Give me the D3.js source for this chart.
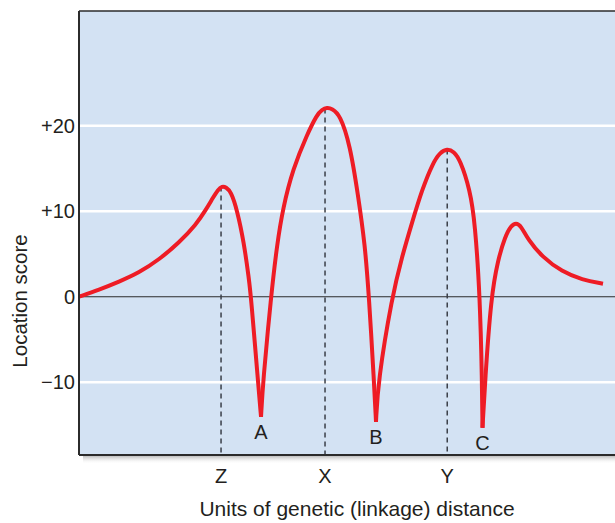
<!DOCTYPE html>
<html>
<head>
  <script src='https://cdn.jsdelivr.net/npm/d3@7/dist/d3.min.js'></script>
  <meta charset='utf-8'>
  <title></title>
  <style>
    body { margin: 0; background: #fff; }
    #chart { width: 615px; height: 523px; }
    text { font-family: 'Liberation Sans', Arial, sans-serif; fill: #231f20; }
  </style>
</head>
<body>
  <div id='chart'></div>
  <script>
    // location score curve
    var distance = [0, 3.73, 7.46, 11.19, 14.93, 18.66, 21.83, 23.69, 25.00, 25.93, 26.68, 27.43, 28.36, 29.48,
      30.78, 31.72, 32.09, 33.40, 33.96,
      34.33, 35.82, 36.94, 38.06, 39.93, 42.54, 44.40, 45.34, 46.27, 47.20, 48.69, 50.56, 52.05, 53.36, 54.10,
      55.04, 55.41,
      55.78, 58.40, 60.26, 62.13, 63.99, 66.04, 67.35, 68.66, 69.96, 71.08, 72.95, 73.88, 74.81, 75.19,
      75.28,
      75.75, 76.87, 78.17, 79.48, 80.60, 81.53, 82.46, 83.77, 86.38, 90.11, 93.84, 97.76];
    var score = [0, 0.82, 1.75, 2.81, 4.33, 6.32, 8.42, 10.18, 11.58, 12.51, 12.92, 12.81, 12.28, 10.18,
      6.32, 1.99, 0, -9.94, -14.04,
      -9.94, 0, 6.08, 10.41, 14.97, 18.95, 21.29, 21.87, 22.11, 21.99, 21.29, 17.78, 11.93, 6.08, 0,
      -9.94, -14.62,
      -9.94, 0, 4.68, 8.65, 12.51, 15.67, 16.84, 17.31, 16.96, 16.02, 12.51, 8.65, 0, -9.94,
      -15.32,
      -9.94, 0, 4.33, 7.02, 8.30, 8.65, 8.30, 6.67, 4.68, 2.92, 1.99, 1.52];

    var peakNames = ['Z', 'X', 'Y'];
    var peakX = [26.5, 45.9, 68.7];
    var peakY = [12.9, 22.0, 17.2];

    var dipNames = ['A', 'B', 'C'];
    var dipX = [33.96, 55.41, 75.28];
    var dipY = [-14.04, -14.62, -15.32];

    var yTicks = [20, 10, 0, -10];
    var yTickLabels = ['+20', '+10', '0', '\u221210'];

    var width = 615, height = 523;
    var margin = { top: 11, right: 0, bottom: 68, left: 79 };
    var w = width - margin.left - margin.right,
      h = height - margin.top - margin.bottom;

    var svg = d3.select('#chart').append('svg')
      .attr('width', width)
      .attr('height', height);

    var defs = svg.append('defs');
    var grad = defs.append('linearGradient')
      .attr('id', 'shadow')
      .attr('x1', 0).attr('y1', 0).attr('x2', 0).attr('y2', 1);
    grad.append('stop').attr('offset', 0).attr('stop-color', '#9a9a9a').attr('stop-opacity', 0.8);
    grad.append('stop').attr('offset', 1).attr('stop-color', '#ffffff').attr('stop-opacity', 0);

    var g = svg.append('g')
      .attr('transform', 'translate(' + margin.left + ',' + margin.top + ')');

    var x = d3.scaleLinear().domain([0, 100]).range([0, w]);
    var y = d3.scaleLinear().domain([-18.5, 33.4]).range([h, 0]);

    // shadow under the panel
    g.append('rect')
      .attr('x', 4).attr('y', h)
      .attr('width', w).attr('height', 9)
      .attr('fill', 'url(#shadow)');

    g.append('rect')
      .attr('width', w).attr('height', h)
      .attr('fill', '#d3e2f3');

    // white grid lines
    g.selectAll('.grid')
      .data(yTicks.filter(function(d) { return d !== 0; }))
      .enter().append('line')
      .attr('x1', 0).attr('x2', w)
      .attr('y1', function(d) { return y(d); })
      .attr('y2', function(d) { return y(d); })
      .attr('stroke', '#fff')
      .attr('stroke-width', 2.5);

    // zero line
    g.append('line')
      .attr('x1', 0).attr('x2', w)
      .attr('y1', y(0)).attr('y2', y(0))
      .attr('stroke', '#2b2b2b')
      .attr('stroke-width', 1.2);

    // dashed drop lines from peaks
    g.selectAll('.drop')
      .data(peakX)
      .enter().append('line')
      .attr('x1', function(d) { return x(d); })
      .attr('x2', function(d) { return x(d); })
      .attr('y1', function(d, i) { return y(peakY[i]); })
      .attr('y2', h)
      .attr('stroke', '#3a3f48')
      .attr('stroke-width', 1.5)
      .attr('stroke-dasharray', '5,4');

    // split the curve into arcs at the sharp dips, so each dip stays a cusp
    var pts = d3.zip(distance, score);
    var arcs = [], start = 0;
    for (var i = 1; i < pts.length - 1; i++) {
      if (score[i] < score[i - 1] && score[i] < score[i + 1]) {
        arcs.push(pts.slice(start, i + 1));
        start = i;
      }
    }
    arcs.push(pts.slice(start));

    var line = d3.line()
      .x(function(d) { return x(d[0]); })
      .y(function(d) { return y(d[1]); })
      .curve(d3.curveBasis);

    g.selectAll('.arc')
      .data(arcs)
      .enter().append('path')
      .attr('d', line)
      .attr('fill', 'none')
      .attr('stroke', '#ee1c25')
      .attr('stroke-width', 4)
      .attr('stroke-linejoin', 'round');

    // dip labels
    g.selectAll('.dip')
      .data(dipNames)
      .enter().append('text')
      .attr('x', function(d, i) { return x(dipX[i]); })
      .attr('y', function(d, i) { return y(dipY[i]) + 22; })
      .attr('text-anchor', 'middle')
      .style('font-size', '20px')
      .text(function(d) { return d; });

    // panel border: left, top and bottom
    g.append('line').attr('x1', 0).attr('x2', 0).attr('y1', 0).attr('y2', h)
      .attr('stroke', '#2b2b2b').attr('stroke-width', 2);
    g.append('line').attr('x1', 0).attr('x2', w).attr('y1', 0).attr('y2', 0)
      .attr('stroke', '#2b2b2b').attr('stroke-width', 1.5);
    g.append('line').attr('x1', 0).attr('x2', w).attr('y1', h).attr('y2', h)
      .attr('stroke', '#2b2b2b').attr('stroke-width', 2);

    // y tick labels
    g.selectAll('.ytick')
      .data(yTicks)
      .enter().append('text')
      .attr('x', -4)
      .attr('y', function(d) { return y(d); })
      .attr('dy', '0.35em')
      .attr('text-anchor', 'end')
      .style('font-size', '20px')
      .text(function(d, i) { return yTickLabels[i]; });

    // x marker labels
    g.selectAll('.xtick')
      .data(peakNames)
      .enter().append('text')
      .attr('x', function(d, i) { return x(peakX[i]); })
      .attr('y', h + 28)
      .attr('text-anchor', 'middle')
      .style('font-size', '20px')
      .text(function(d) { return d; });

    svg.append('text')
      .attr('x', 357)
      .attr('y', 516)
      .attr('text-anchor', 'middle')
      .style('font-size', '21px')
      .text('Units of genetic (linkage) distance');

    svg.append('text')
      .attr('transform', 'translate(27,301) rotate(-90)')
      .attr('text-anchor', 'middle')
      .style('font-size', '20.5px')
      .text('Location score');
  </script>
</body>
</html>
